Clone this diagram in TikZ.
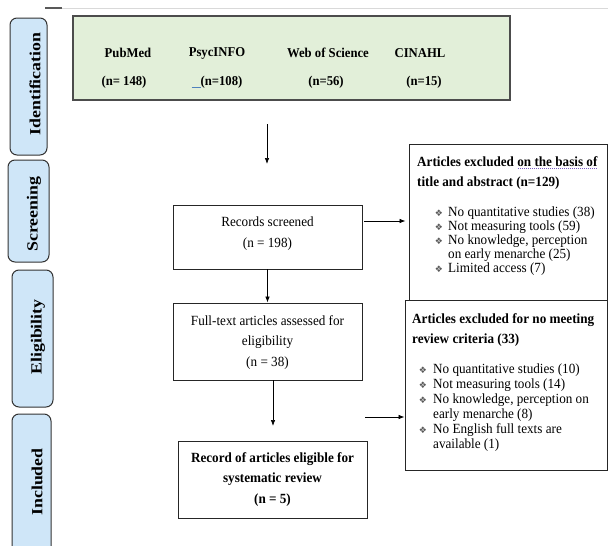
\documentclass[tikz,border=0pt]{standalone}
\usepackage{fontspec}
\setmainfont{Liberation Serif}[FakeStretch=0.94]
\newfontfamily\labfont{Liberation Serif}[FakeStretch=1.15]
\newfontfamily\symfont{DejaVu Sans}
\usetikzlibrary{arrows.meta,fit}
\definecolor{idgreen}{HTML}{E2EFD9}
\definecolor{phaseblue}{HTML}{CFE6F8}
\definecolor{spellpurple}{HTML}{7B5CC4}
\definecolor{markblue}{HTML}{4F81BD}
\newcommand{\bul}{{\symfont\fontsize{9}{9}\selectfont ❖}}
\newcommand{\tightls}{\lineskiplimit=-20pt\relax}
\newcommand{\dotund}[1]{\setbox0=\hbox{#1}\rlap{\raisebox{-2.5pt}{\textcolor{spellpurple}{\hbox to \wd0{\leaders\hbox to 2pt{\hss\rule{1pt}{0.7pt}\hss}\hfill}}}}\box0}
\begin{document}
\begin{tikzpicture}[x=1pt,y=-1pt,
  phase/.style={draw=black!80, line width=1pt, fill=phaseblue, rounded corners=7pt, inner sep=0pt},
  phasetxt/.style={rotate=90, font=\labfont\bfseries\fontsize{15.5}{16}\selectfont, inner sep=0pt},
  srcbox/.style={draw=black!70, line width=1.3pt, fill=idgreen, inner sep=0pt},
  stepbox/.style={draw=black!85, line width=0.9pt, fill=white, inner sep=0pt},
  srctxt/.style={font=\bfseries\fontsize{13.5}{14}\selectfont, inner sep=0pt},
  boxtxt/.style={font={\fontsize{14}{20.5}\selectfont\tightls}, align=center, inner sep=0pt},
  titletxt/.style={font={\bfseries\fontsize{14}{20}\selectfont\tightls}, align=left, inner sep=0pt, anchor=west},
  listtxt/.style={font={\fontsize{14}{14}\selectfont\tightls}, align=left, inner sep=0pt, anchor=west},
  bultxt/.style={inner sep=0pt, text=black!65},
  arr/.style={-{Latex[length=6pt,width=4.5pt]}, line width=0.7pt, black}
]
\useasboundingbox (0,0) rectangle (608,546);
\clip (0,0) rectangle (608,546);

% top rule
\coordinate (tl0) at (45,8);
\coordinate (tl1) at (62,8);
\coordinate (tl2) at (608,8);
\draw[line width=2pt, black!65] (tl0) -- (tl1);
\draw[line width=0.8pt, black!15] (tl1) -- (tl2);

% phase labels
\node[phase, fit={(10,18) (47,155)}] (pid) {};
\node[phasetxt] (pidt) at (35,84) {Identification};
\node[phase, fit={(8,160) (49,262)}] (psc) {};
\node[phasetxt] (psct) at (34,214) {Screening};
\node[phase, fit={(12,270) (53,407)}] (pel) {};
\node[phasetxt] (pelt) at (38,337) {Eligibility};
\node[phase, fit={(12,414) (51,580)}] (pin) {};
\node[phasetxt] (pint) at (37,482) {Included};

% identification sources
\node[srcbox, fit={(73,16) (510,100)}] (src) {};
\node[srctxt] (s1) at (128,53) {PubMed};
\node[srctxt] (s2) at (217,53) {PsycINFO};
\node[srctxt] (s3) at (328,53) {Web of Science};
\node[srctxt] (s4) at (420,53) {CINAHL};
\node[srctxt] (n1) at (124,82) {(n= 148)};
\node[srctxt] (n2) at (217,82) {\textcolor{markblue}{\rule[-2.5pt]{9pt}{1.2pt}}(n=108)};
\node[srctxt] (n3) at (326,82) {(n=56)};
\node[srctxt] (n4) at (424,82) {(n=15)};

% flow boxes
\node[stepbox, fit={(173,205) (362,269)}] (rs) {};
\node[boxtxt] (rst) at (267.5,233.5) {Records screened\\(n = 198)};
\node[stepbox, fit={(173,303) (362,380)}] (ft) {};
\node[boxtxt] (ftt) at (267.5,342.5) {Full-text articles assessed for\\eligibility\\(n = 38)};
\node[stepbox, fit={(178,441) (367,518)}] (inc) {};
\node[boxtxt, font={\bfseries\fontsize{14}{20.5}\selectfont\tightls}] (inct) at (272.5,479.5) {Record of articles eligible for\\systematic review\\(n = 5)};

% exclusion box 1
\node[stepbox, fit={(409,144) (607,302)}] (ex1) {};
\node[titletxt] (ex1t) at (417,173) {Articles excluded \dotund{on the basis of}\\title and abstract (n=129)};
\node[listtxt] (ex1l) at (448,241) {No quantitative studies (38)\\Not measuring tools (59)\\No knowledge, perception\\on early menarche (25)\\Limited access (7)};
\node[bultxt] (b11) at (439,213) {\bul};
\node[bultxt] (b12) at (439,227) {\bul};
\node[bultxt] (b13) at (439,241) {\bul};
\node[bultxt] (b14) at (439,269) {\bul};

% exclusion box 2
\node[stepbox, fit={(405,300) (607,470)}] (ex2) {};
\node[titletxt] (ex2t) at (412,330) {Articles excluded for no meeting\\review criteria (33)};
\node[listtxt, font={\fontsize{14}{15}\selectfont\tightls}] (ex2l) at (433,408) {No quantitative studies (10)\\Not measuring tools (14)\\No knowledge, perception on\\early menarche (8)\\No English full texts are\\available (1)};
\node[bultxt] (b21) at (423,370.5) {\bul};
\node[bultxt] (b22) at (423,385.5) {\bul};
\node[bultxt] (b23) at (423,400.5) {\bul};
\node[bultxt] (b24) at (423,430.5) {\bul};

% connectors
\coordinate (a1s) at (267,124);
\coordinate (a1e) at (267,164);
\draw[arr] (a1s) -- (a1e);
\coordinate (a2y) at (0,221);
\draw[arr, shorten <=2pt, shorten >=3pt] (rs.east |- a2y) -- (ex1.west |- a2y);
\draw[arr] (rs.south) -- (ft.north);
\coordinate (a4e) at (273,426);
\draw[arr] (ft.south -| a4e) -- (a4e);
\coordinate (a5s) at (365,417);
\draw[arr] (a5s) -- (ex2.west |- a5s);
\end{tikzpicture}
\end{document}
